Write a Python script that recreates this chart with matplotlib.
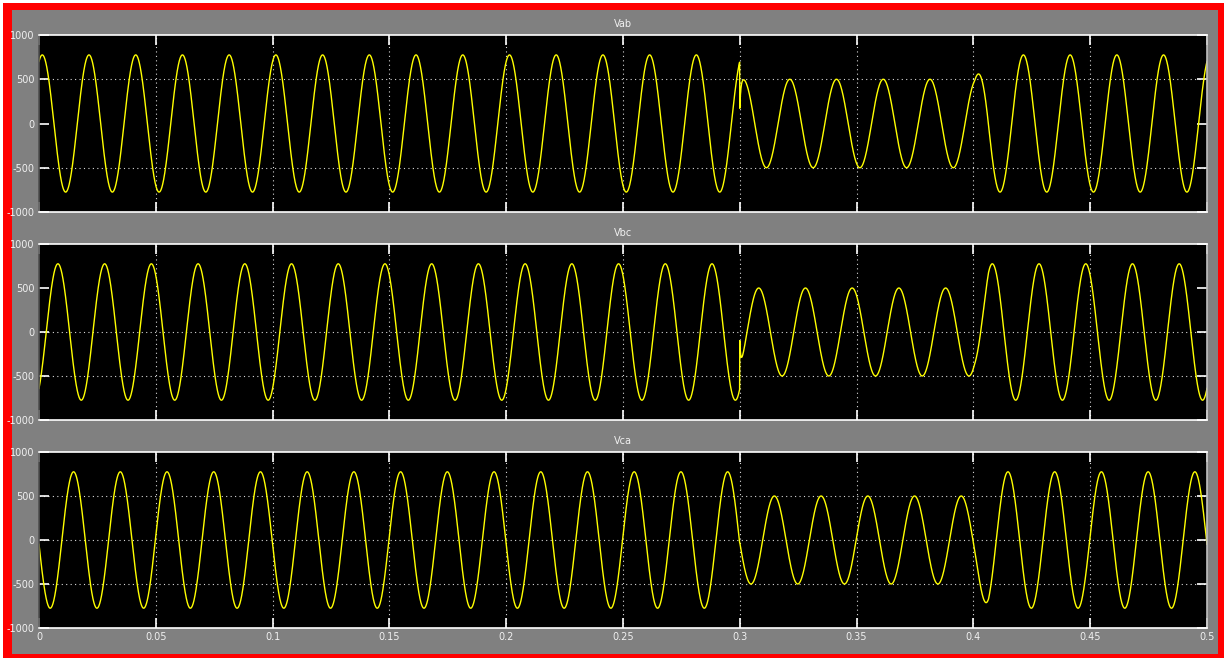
import numpy as np
import matplotlib
matplotlib.use('Agg')
import matplotlib.pyplot as plt
from matplotlib.patches import Rectangle

# values
names = ['Vab', 'Vbc', 'Vca']
freq = 50.0                       # Hz, 25 cycles in 0.5 s
peak_time = [0.0014, 0.0081, 0.0148]  # time of first positive peak (s)
amp_normal = 775.0
amp_sag = 500.0
sag_start = 0.3
recover_start, recover_end = 0.4005, 0.4065   # amplitude climbs back over a few ms
kick_03 = [-280.0, 315.0, 0.0]    # switching transient at 0.3 s
tau_03 = 0.0004

xticks = [0, 0.05, 0.1, 0.15, 0.2, 0.25, 0.3, 0.35, 0.4, 0.45, 0.5]
xticklabels = ['0', '0.05', '0.1', '0.15', '0.2', '0.25', '0.3', '0.35', '0.4', '0.45', '0.5']
yticks = [-1000, -500, 0, 500, 1000]
# dotted horizontal lines actually visible on each scope panel
hgrid = [[-500, 500], [-500, 0], [-500, 0, 500]]

t = np.linspace(0, 0.5, 6001)


def line_voltage(i):
    amp = np.interp(t, [sag_start - 1e-9, sag_start, recover_start, recover_end],
                    [amp_normal, amp_sag, amp_sag, amp_normal])
    v = amp * np.cos(2 * np.pi * freq * (t - peak_time[i]))
    m3 = (t >= sag_start) & (t < recover_start)
    v[m3] += kick_03[i] * np.exp(-(t[m3] - sag_start) / tau_03)
    return v


W, H = 1224, 658
fig = plt.figure(figsize=(W / 100, H / 100), dpi=100)
fig.patch.set_facecolor('white')
# red frame + grey scope background
fig.patches.append(Rectangle((3 / W, 0), 1 - 3 / W, 1 - 3 / H, transform=fig.transFigure,
                             facecolor='#ff0000', edgecolor='none', zorder=-2))
fig.patches.append(Rectangle((12 / W, 4 / H), (1218 - 12) / W, (648 - 4) / H, transform=fig.transFigure,
                             facecolor='#808080', edgecolor='none', zorder=-1))

boxes = [(35, 212), (244, 420), (452, 628)]
for i, (top, bot) in enumerate(boxes):
    ax = fig.add_axes([39 / W, (H - bot) / H, (1207 - 39) / W, (bot - top) / H])
    ax.set_facecolor('black')
    for x in xticks[1:-1]:
        ax.axvline(x, color='white', linestyle=(0, (1, 3)), linewidth=0.8, alpha=0.85, zorder=1)
    for y in hgrid[i]:
        ax.axhline(y, color='white', linestyle=(0, (1, 3)), linewidth=0.8, alpha=0.85, zorder=1)
    ax.plot(t, line_voltage(i), color='#ffff00', lw=1.0, zorder=2)
    ax.set_xlim(0, 0.5)
    ax.set_ylim(-1000, 1000)
    ax.set_xticks(xticks)
    ax.set_yticks(yticks)
    ax.set_yticklabels([str(v) for v in yticks], fontsize=7, color='#f0f0f0')
    if i == 2:
        ax.set_xticklabels(xticklabels, fontsize=7, color='#f0f0f0')
    else:
        ax.set_xticklabels([])
    ax.tick_params(direction='in', length=7, width=1.2, color='white',
                   top=True, right=True, pad=3)
    for s in ax.spines.values():
        s.set_color('white')
        s.set_linewidth(1.2)
    ax.spines['left'].set_color('#505050')
    ax.spines['right'].set_color('#c0c0c0')
    ax.set_title(names[i], fontsize=7, color='#f0f0f0', pad=6)

fig.savefig('out.png', dpi=100, facecolor=fig.get_facecolor())
